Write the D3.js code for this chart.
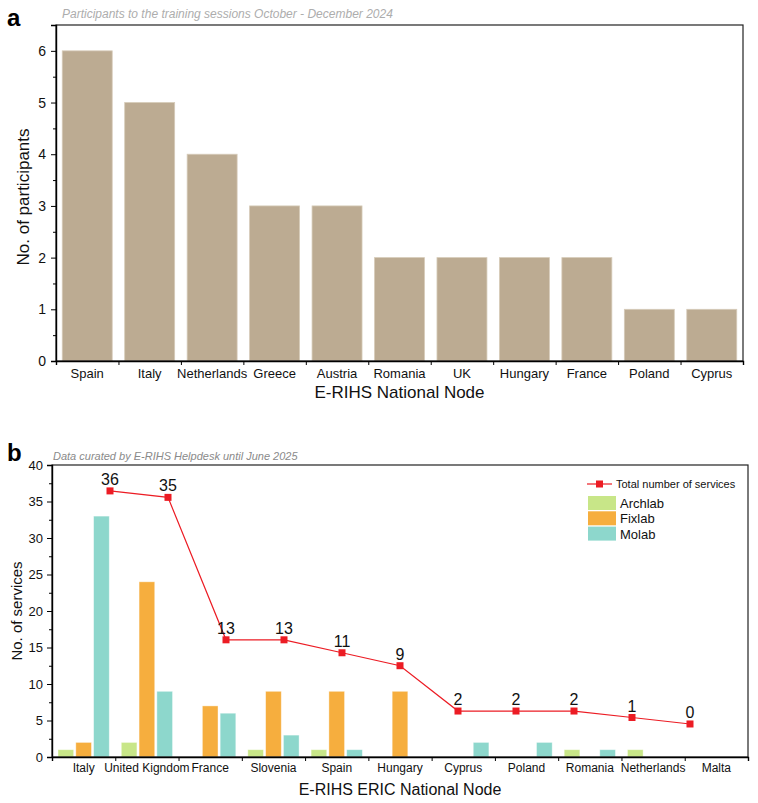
<!DOCTYPE html>
<html>
<head>
<meta charset="utf-8">
<script src="https://cdn.jsdelivr.net/npm/d3@7"></script>
<style>
  body { margin: 0; background: #fff; }
  svg { font-family: "Liberation Sans", Arial, sans-serif; }
</style>
</head>
<body>
<div id="chart"></div>
<script>
// panel a data
const nodesA = ['Spain', 'Italy', 'Netherlands', 'Greece', 'Austria', 'Romania', 'UK', 'Hungary', 'France', 'Poland', 'Cyprus'];
const participants = [6, 5, 4, 3, 3, 2, 2, 2, 2, 1, 1];

// panel b data
const nodesB = ['Italy', 'United Kigndom', 'France', 'Slovenia', 'Spain', 'Hungary', 'Cyprus', 'Poland', 'Romania', 'Netherlands', 'Malta'];
const labs = ['Archlab', 'Fixlab', 'Molab'];
const archlab = [1, 2, 0, 1, 1, 0, 0, 0, 1, 1, 0];
const fixlab = [2, 24, 7, 9, 9, 9, 0, 0, 0, 0, 0];
const molab = [33, 9, 6, 3, 1, 0, 2, 2, 1, 0, 0];
const totals = [36, 35, 13, 13, 11, 9, 2, 2, 2, 1, 0];

const labColors = { Archlab: '#c8e688', Fixlab: '#f6ae3e', Molab: '#8dd7cc' };
const red = '#ec1c24';

const svg = d3.select('#chart').append('svg')
    .attr('width', 758)
    .attr('height', 803);

// ---------- panel a ----------
const a = { left: 56, right: 743, top: 25, bottom: 361 };
const gA = svg.append('g');

const xA = d3.scaleBand().domain(nodesA).range([a.left, a.right]).paddingInner(0.2).paddingOuter(0.1);
const yA = d3.scaleLinear().domain([0, 6.5]).range([a.bottom, a.top]);

gA.selectAll('rect.bar')
    .data(nodesA)
    .enter().append('rect')
    .attr('class', 'bar')
    .attr('x', d => xA(d))
    .attr('width', xA.bandwidth())
    .attr('y', (d, i) => yA(participants[i]))
    .attr('height', (d, i) => yA(0) - yA(participants[i]))
    .attr('fill', '#bcab92')
    .attr('stroke', '#d6cbb9')
    .attr('stroke-width', 0.8);

// frame
gA.append('rect')
    .attr('x', a.left).attr('y', a.top)
    .attr('width', a.right - a.left).attr('height', a.bottom - a.top)
    .attr('fill', 'none').attr('stroke', '#222').attr('stroke-width', 1.2);

// y axis: major + minor ticks
gA.append('g')
    .attr('transform', `translate(${a.left},0)`)
    .call(d3.axisLeft(yA).tickValues(d3.range(0.5, 6.5, 1)).tickSize(3).tickFormat(''))
    .call(g => g.select('.domain').remove());
gA.append('g')
    .attr('transform', `translate(${a.left},0)`)
    .call(d3.axisLeft(yA).tickValues(d3.range(0, 7)).tickSize(5).tickPadding(5).tickFormat(d3.format('d')))
    .call(g => g.select('.domain').attr('stroke-width', 1.4))
    .call(g => g.selectAll('text').attr('font-size', 14).attr('fill', '#111'));

// x axis: ticks at category boundaries
gA.append('g')
    .attr('transform', `translate(0,${a.bottom})`)
    .call(d3.axisBottom(d3.scaleLinear().domain([0, nodesA.length]).range([a.left, a.right]))
        .tickValues(d3.range(0, nodesA.length + 1)).tickSize(4).tickFormat(''))
    .call(g => g.select('.domain').attr('stroke-width', 1.4));
gA.selectAll('text.xlab')
    .data(nodesA)
    .enter().append('text')
    .attr('class', 'xlab')
    .attr('x', d => xA(d) + xA.bandwidth() / 2)
    .attr('y', 378)
    .attr('text-anchor', 'middle')
    .attr('font-size', 13)
    .attr('fill', '#111')
    .text(d => d);

gA.append('text')
    .attr('x', (a.left + a.right) / 2).attr('y', 398)
    .attr('text-anchor', 'middle').attr('font-size', 17).attr('fill', '#111')
    .text('E-RIHS National Node');
gA.append('text')
    .attr('transform', `translate(29,${(a.top + a.bottom) / 2 + 4}) rotate(-90)`)
    .attr('text-anchor', 'middle').attr('font-size', 17).attr('fill', '#111')
    .text('No. of participants');
gA.append('text')
    .attr('x', 62).attr('y', 18)
    .attr('font-size', 12).attr('font-style', 'italic').attr('fill', '#adadad')
    .text('Participants to the training sessions October - December 2024');
gA.append('text')
    .attr('x', 7).attr('y', 26)
    .attr('font-size', 24).attr('font-weight', 'bold').attr('fill', '#000')
    .text('a');

// ---------- panel b ----------
const b = { left: 52, right: 748, top: 465, bottom: 757 };
const gB = svg.append('g');

const xB = d3.scaleBand().domain(nodesB).range([b.left, b.right]);
const xLab = d3.scaleBand().domain(labs).range([6, xB.bandwidth() - 6]).paddingInner(0.12);
const yB = d3.scaleLinear().domain([0, 40]).range([b.bottom, b.top]);
// total line uses its own hidden axes
const xLine = d3.scalePoint().domain(nodesB).range([110, 690]);
const yLine = d3.scaleLinear().domain([-5.1, 40]).range([b.bottom, b.top]);

const labValues = { Archlab: archlab, Fixlab: fixlab, Molab: molab };
const barData = [];
nodesB.forEach((n, i) => labs.forEach(l => {
    if (labValues[l][i] > 0) barData.push({ node: n, lab: l, value: labValues[l][i] });
}));

gB.selectAll('rect.bar')
    .data(barData)
    .enter().append('rect')
    .attr('class', 'bar')
    .attr('x', d => xB(d.node) + xLab(d.lab))
    .attr('width', xLab.bandwidth())
    .attr('y', d => yB(d.value))
    .attr('height', d => yB(0) - yB(d.value))
    .attr('fill', d => labColors[d.lab])
    .attr('stroke', '#fff')
    .attr('stroke-opacity', 0.5)
    .attr('stroke-width', 0.8);

gB.append('rect')
    .attr('x', b.left).attr('y', b.top)
    .attr('width', b.right - b.left).attr('height', b.bottom - b.top)
    .attr('fill', 'none').attr('stroke', '#222').attr('stroke-width', 1.2);

gB.append('g')
    .attr('transform', `translate(${b.left},0)`)
    .call(d3.axisLeft(yB).tickValues(d3.range(2.5, 40, 5)).tickSize(3).tickFormat(''))
    .call(g => g.select('.domain').remove());
gB.append('g')
    .attr('transform', `translate(${b.left},0)`)
    .call(d3.axisLeft(yB).tickValues(d3.range(0, 41, 5)).tickSize(5).tickPadding(4))
    .call(g => g.select('.domain').attr('stroke-width', 1.4))
    .call(g => g.selectAll('text').attr('font-size', 13).attr('fill', '#111'));

gB.append('g')
    .attr('transform', `translate(0,${b.bottom})`)
    .call(d3.axisBottom(d3.scaleLinear().domain([0, nodesB.length]).range([b.left, b.right]))
        .tickValues(d3.range(0, nodesB.length + 1)).tickSize(4).tickFormat(''))
    .call(g => g.select('.domain').attr('stroke-width', 1.4));
gB.selectAll('text.xlab')
    .data(nodesB)
    .enter().append('text')
    .attr('class', 'xlab')
    .attr('x', d => xB(d) + xB.bandwidth() / 2)
    .attr('y', 772)
    .attr('text-anchor', 'middle')
    .attr('font-size', 12)
    .attr('fill', '#111')
    .text(d => d);

// total line
const line = d3.line()
    .x((d, i) => xLine(nodesB[i]))
    .y(d => yLine(d));
gB.append('path')
    .datum(totals)
    .attr('d', line)
    .attr('fill', 'none')
    .attr('stroke', red)
    .attr('stroke-width', 1.2);
gB.selectAll('rect.pt')
    .data(totals)
    .enter().append('rect')
    .attr('class', 'pt')
    .attr('x', (d, i) => xLine(nodesB[i]) - 3.5)
    .attr('y', d => yLine(d) - 3.5)
    .attr('width', 7).attr('height', 7)
    .attr('fill', red);
gB.selectAll('text.tot')
    .data(totals)
    .enter().append('text')
    .attr('class', 'tot')
    .attr('x', (d, i) => xLine(nodesB[i]))
    .attr('y', d => yLine(d) - 6)
    .attr('text-anchor', 'middle')
    .attr('font-size', 16)
    .attr('fill', '#111')
    .text(d => d);

// legend
const lg = gB.append('g').attr('transform', 'translate(587,484)');
lg.append('line').attr('x1', 0).attr('x2', 25).attr('y1', 0).attr('y2', 0)
    .attr('stroke', red).attr('stroke-width', 1.2);
lg.append('rect').attr('x', 9).attr('y', -3.5).attr('width', 7).attr('height', 7).attr('fill', red);
lg.append('text').attr('x', 29).attr('y', 4)
    .attr('font-size', 11).attr('fill', '#111').text('Total number of services');
labs.forEach((l, i) => {
    lg.append('rect')
        .attr('x', 1).attr('y', 12 + i * 15.3)
        .attr('width', 28).attr('height', 14)
        .attr('fill', labColors[l]);
    lg.append('text')
        .attr('x', 33).attr('y', 24 + i * 15.3)
        .attr('font-size', 13).attr('fill', '#111').text(l);
});

gB.append('text')
    .attr('x', (b.left + b.right) / 2).attr('y', 795)
    .attr('text-anchor', 'middle').attr('font-size', 16).attr('fill', '#111')
    .text('E-RIHS ERIC National Node');
gB.append('text')
    .attr('transform', `translate(22,${(b.top + b.bottom) / 2}) rotate(-90)`)
    .attr('text-anchor', 'middle').attr('font-size', 15).attr('fill', '#111')
    .text('No. of services');
gB.append('text')
    .attr('x', 53).attr('y', 460)
    .attr('font-size', 11).attr('font-style', 'italic').attr('fill', '#8a8a8a')
    .text('Data curated by E-RIHS Helpdesk until June 2025');
gB.append('text')
    .attr('x', 7).attr('y', 461)
    .attr('font-size', 24).attr('font-weight', 'bold').attr('fill', '#000')
    .text('b');
</script>
</body>
</html>
